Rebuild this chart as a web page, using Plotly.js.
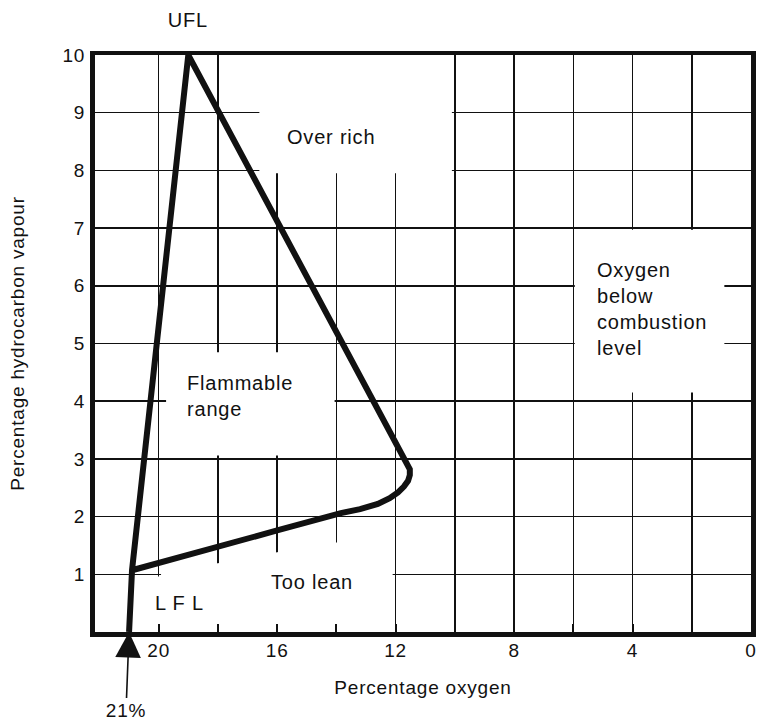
<!DOCTYPE html>
<html>
<head>
<meta charset="utf-8">
<script src="https://cdn.plot.ly/plotly-3.0.1.min.js"></script>
<style>
  html, body { margin: 0; padding: 0; background: #fff; }
  #chart { width: 758px; height: 724px; }
  .js-plotly-plot text { letter-spacing: 0.8px; }
</style>
</head>
<body>
<div id="chart"></div>
<script>
// Flammability boundary (percentage oxygen vs percentage hydrocarbon vapour)
const oxygenPct = [21, 20.9, 19, 12.0, 11.78, 11.6, 11.52, 11.52, 11.58, 11.72, 11.92, 12.2, 12.6, 13.2, 13.85, 16, 18, 20.9];
const hydrocarbonPct = [0, 1.07, 10, 3.27, 3.08, 2.93, 2.82, 2.72, 2.62, 2.52, 2.42, 2.32, 2.22, 2.13, 2.06, 1.76, 1.48, 1.07];

// Axis ticks
const xTickVals = [20, 16, 12, 8, 4, 0];
const xTickText = ["20", "16", "12", "8", "4", "0"];
const xMinorVals = [18, 14, 10, 6, 2];
const yTickVals = [1, 2, 3, 4, 5, 6, 7, 8, 9, 10];
const yTickText = ["1", "2", "3", "4", "5", "6", "7", "8", "9", "10"];

// Region labels
const labelText = ["Over rich", "Flammable<br>range", "Oxygen<br>below<br>combustion<br>level", "Too lean", "L F L"];
const labelX = [14.3, 19.1, 5.28, 14.92, 19.36];
const labelY = [8.58, 4.09, 5.6, 0.86, 0.5];

const FONT = "Liberation Sans, Arial, sans-serif";
const INK = "#111";

const trace = {
  x: oxygenPct,
  y: hydrocarbonPct,
  type: "scatter",
  mode: "lines",
  line: { color: INK, width: 6, shape: "linear" },
  cliponaxis: false,
  hoverinfo: "skip",
  showlegend: false
};

const annotations = labelText.map((t, i) => ({
  text: t,
  x: labelX[i],
  y: labelY[i],
  xref: "x",
  yref: "y",
  showarrow: false,
  xanchor: (i === 1 || i === 2) ? "left" : "center",
  align: "left",
  font: { family: FONT, size: 20, color: INK }
}));

annotations.push({
  text: "UFL",
  x: 19, xref: "x",
  y: 1.06, yref: "paper",
  yanchor: "middle",
  showarrow: false,
  font: { family: FONT, size: 20, color: INK }
});

annotations.push({
  text: "21%",
  x: 21, y: 0, xref: "x", yref: "y",
  ax: -3, ay: 78,
  showarrow: true,
  arrowhead: 2,
  arrowsize: 3.2,
  arrowwidth: 1.6,
  arrowcolor: INK,
  font: { family: FONT, size: 19, color: INK }
});

const white = { fillcolor: "#fff", line: { width: 0 }, layer: "between", xref: "x", yref: "y" };
const shapes = [
  Object.assign({ type: "rect", x0: 16.6, x1: 10.1, y0: 7.95, y1: 10 }, white),
  Object.assign({ type: "rect", x0: 19.75, x1: 14.06, y0: 3.06, y1: 4.85 }, white),
  Object.assign({ type: "rect", x0: 5.95, x1: 0.9, y0: 4.15, y1: 6.97 }, white),
  Object.assign({ type: "path", path: "M 20.12,0.04 L 20.12,0.96 L 19.92,0.96 L 19.92,1.12 L 18,1.19 L 16,1.38 L 14,1.55 L 12.1,1.6 L 12.1,0.04 Z" }, white)
];

const layout = {
  width: 758,
  height: 724,
  margin: { l: 95, r: 7, t: 55, b: 92, pad: 0 },
  paper_bgcolor: "#fff",
  plot_bgcolor: "#fff",
  font: { family: FONT, size: 19, color: INK },
  xaxis: {
    range: [22.15, 0],
    tickmode: "array",
    tickvals: xTickVals,
    ticktext: xTickText,
    ticks: "inside",
    ticklen: 8,
    tickwidth: 2,
    tickcolor: INK,
    ticklabelstandoff: -2,
    showgrid: true,
    gridcolor: INK,
    gridwidth: 1.5,
    minor: { tickmode: "array", tickvals: xMinorVals, showgrid: true, gridcolor: INK, gridwidth: 1.5, ticks: "inside", ticklen: 8, tickwidth: 2, tickcolor: INK },
    showline: true,
    linecolor: INK,
    linewidth: 4.5,
    mirror: true,
    zeroline: false,
    fixedrange: true,
    tickfont: { family: FONT, size: 19, color: INK },
    title: { text: "Percentage oxygen", standoff: 22, font: { family: FONT, size: 19, color: INK } }
  },
  yaxis: {
    range: [0, 10],
    tickmode: "array",
    tickvals: yTickVals,
    ticktext: yTickText,
    ticks: "",
    ticklabelstandoff: 1,
    showgrid: true,
    gridcolor: INK,
    gridwidth: 1.5,
    showline: true,
    linecolor: INK,
    linewidth: 5,
    mirror: true,
    zeroline: false,
    fixedrange: true,
    tickfont: { family: FONT, size: 19, color: INK },
    title: { text: "Percentage hydrocarbon vapour", standoff: 36, font: { family: FONT, size: 19, color: INK } }
  },
  shapes: shapes,
  annotations: annotations,
  showlegend: false
};

Plotly.newPlot("chart", [trace], layout, { displayModeBar: false, staticPlot: true });
</script>
</body>
</html>
